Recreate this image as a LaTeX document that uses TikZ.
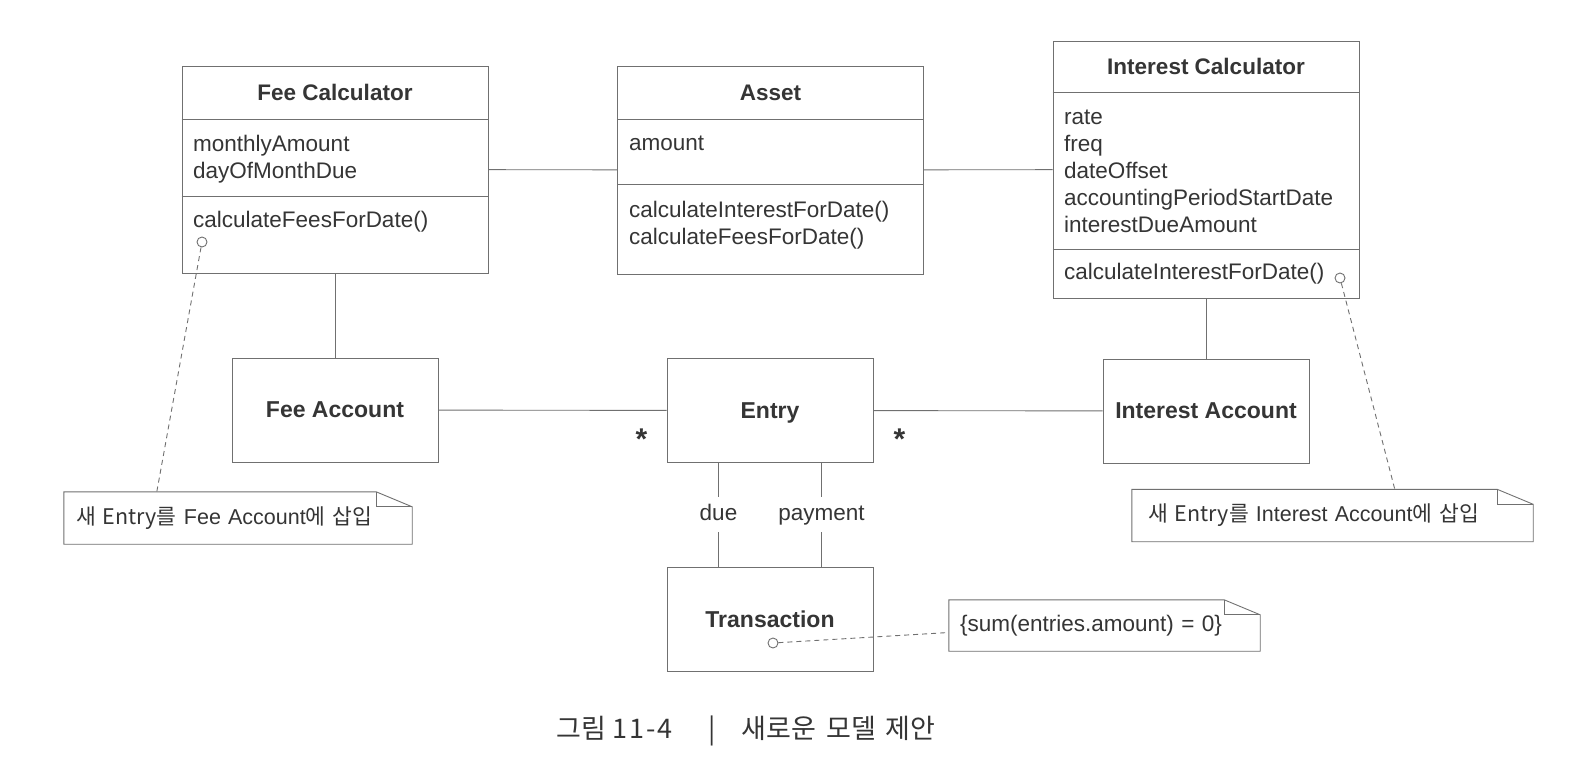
\documentclass[tikz,border=0pt]{standalone}
\usepackage{fontspec}
\setmainfont{Liberation Sans}
\newfontfamily\kr{Noto Sans CJK KR}
\usetikzlibrary{positioning}

\definecolor{ink}{HTML}{353535}
\definecolor{edge}{HTML}{707070}

\begin{document}
\begin{tikzpicture}
[x=1pt, y=-1pt,
 every node/.style={text=ink, font=\fontsize{22.5}{27}\selectfont, inner sep=0pt},
 box/.style={draw=edge, line width=0.9pt, minimum width=206pt, minimum height=104pt,
   font=\fontsize{23}{27}\selectfont\bfseries, text depth=0pt},
 classbox/.style={draw=edge, line width=0.9pt, minimum width=306pt},
 head/.style={anchor=base, font=\fontsize{22.5}{27}\selectfont\bfseries},
 attr/.style={anchor=base west},
 link/.style={draw=edge, line width=0.9pt},
 role/.style={fill=white, inner xsep=3pt, inner ysep=8pt, text height=15pt, text depth=4pt},
 mult/.style={font=\fontsize{30}{30}\selectfont\bfseries},
 notebox/.style={align=left, minimum height=52pt, font=\fontsize{21.5}{27}\selectfont},
 notelink/.style={draw=edge, line width=0.9pt, dash pattern=on 5pt off 4pt},
 hook/.style={circle, draw=edge, fill=white, line width=0.9pt, minimum size=10pt}]

\fill[white] (0,0) rectangle (1590,766);
\useasboundingbox (0,0) rectangle (1590,766);

% Fee Calculator
\node[classbox, minimum height=207pt] (feecalc) at (335,169.5) {};
\node[head] (feecalcH) at (335,100) {Fee Calculator};
\draw[link] (feecalc.west |- 0,119) -- (feecalc.east |- 0,119);
\draw[link] (feecalc.west |- 0,196) -- (feecalc.east |- 0,196);
\foreach \lbl [count=\i] in {monthlyAmount, dayOfMonthDue}
	\node[attr] (fcA\i) at (193,124+27*\i) {\lbl};
\node[attr] (fcO1) at (193,227) {calculateFeesForDate()};
\node[hook] (hk1) at (202,242) {};

% Asset
\node[classbox, minimum height=208pt] (asset) at (770.5,170) {};
\node[head] (assetH) at (770.5,100) {Asset};
\draw[link] (asset.west |- 0,119) -- (asset.east |- 0,119);
\draw[link] (asset.west |- 0,184) -- (asset.east |- 0,184);
\node[attr] (asA1) at (629,150) {amount};
\foreach \lbl [count=\i] in {calculateInterestForDate(), calculateFeesForDate()}
	\node[attr] (asO\i) at (629,190+27*\i) {\lbl};

% Interest Calculator
\node[classbox, minimum height=257pt] (intcalc) at (1206,169.5) {};
\node[head] (intcalcH) at (1206,74) {Interest Calculator};
\draw[link] (intcalc.west |- 0,92) -- (intcalc.east |- 0,92);
\draw[link] (intcalc.west |- 0,249) -- (intcalc.east |- 0,249);
\foreach \lbl [count=\i] in {rate, freq, dateOffset, accountingPeriodStartDate, interestDueAmount}
	\node[attr] (icA\i) at (1064,97+27*\i) {\lbl};
\node[attr] (icO1) at (1064,279) {calculateInterestForDate()};
\node[hook] (hk2) at (1340,278) {};

% accounts, entry, transaction
\node[box] (feeacc) at (335,410) {Fee Account};
\node[box] (entry) at (770,410.5) {Entry};
\node[box] (intacc) at (1206,411) {Interest Account};
\node[box] (trans) at (770,619) {Transaction};
\node[hook] (hk3) at (773,643) {};

\foreach \from/\to in {feecalc/asset,asset/intcalc,feeacc/entry,entry/intacc}
	\draw[link] (\from) -- (\to);
\foreach \from/\to in {feecalc/feeacc,intcalc/intacc}
	\draw[link] (\from.south) -- (\to.north);

\node[mult] (m1) at ([xshift=-25pt,yshift=-29pt]entry.west) {*};
\node[mult] (m2) at ([xshift=26pt,yshift=-29pt]entry.east) {*};

\draw[link] ([xshift=-51.5pt]entry.south) -- node[role] (due) {due} ([xshift=-51.5pt]trans.north);
\draw[link] ([xshift=51.5pt]entry.south) -- node[role] (payment) {payment} ([xshift=51.5pt]trans.north);

% notes
\node[notebox, text width=324pt, inner xsep=12pt] (note1) at (238,518)
	{{\kr 새 Entry를} Fee Account{\kr 에 삽입}};
\node[notebox, text width=369pt, inner xsep=16pt] (note2) at (1332.5,515.5)
	{{\kr 새 Entry를} Interest Account{\kr 에 삽입}};
\node[notebox, text width=289pt, inner xsep=11pt, minimum height=51pt,
	font=\fontsize{22.5}{27}\selectfont] (note3) at (1104.5,625.5)
	{\{sum(entries.amount) = 0\}};
\foreach \n in {note1,note2,note3} {
	\draw[link] (\n.north west) -- ([xshift=-36pt]\n.north east)
		-- ([yshift=-15pt]\n.north east) -- (\n.south east) -- (\n.south west) -- cycle;
	\draw[link] ([xshift=-36pt]\n.north east) |- ([yshift=-15pt]\n.north east);
}

\draw[notelink] (hk1) -- ([xshift=93pt]note1.north west);
\draw[notelink] (hk2) -- ([xshift=263pt]note2.north west);
\draw[notelink] (hk3) -- ([yshift=-7pt]note3.west);

% caption
\node[font=\kr\fontsize{27}{27}\selectfont, text=ink] (caption) at (746,731)
	{그림 1\kern2pt1\kern2pt-\kern2pt4\hspace{36pt}|\hspace{26pt}새로운\hspace{4pt} 모델\hspace{4pt} 제안};

\end{tikzpicture}
\end{document}
